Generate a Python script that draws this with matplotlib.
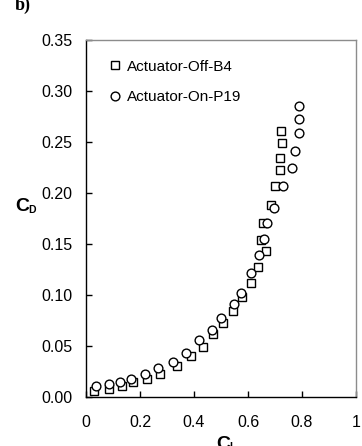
import matplotlib
matplotlib.use("Agg")
import matplotlib.pyplot as plt
from matplotlib.lines import Line2D

plt.rcParams['font.family'] = ['Liberation Sans', 'DejaVu Sans']

# Lift coefficient / drag coefficient pairs
cl_off = [0.029, 0.085, 0.132, 0.175, 0.225, 0.274, 0.336, 0.388, 0.432, 0.469,
          0.509, 0.543, 0.577, 0.611, 0.638, 0.667, 0.647, 0.657, 0.684, 0.700,
          0.719, 0.719, 0.727, 0.721]
cd_off = [0.0062, 0.0081, 0.0110, 0.0144, 0.0176, 0.0222, 0.0305, 0.0402, 0.0493, 0.0618,
          0.0728, 0.0846, 0.0977, 0.1120, 0.1278, 0.1434, 0.1539, 0.1703, 0.1882, 0.2069,
          0.2225, 0.2340, 0.2493, 0.2611]

cl_on = [0.036, 0.086, 0.126, 0.167, 0.219, 0.266, 0.323, 0.372, 0.420, 0.466,
         0.500, 0.548, 0.574, 0.611, 0.642, 0.660, 0.671, 0.697, 0.731, 0.762,
         0.774, 0.789, 0.789, 0.789]
cd_on = [0.0111, 0.0125, 0.0144, 0.0176, 0.0225, 0.0281, 0.0340, 0.0433, 0.0559, 0.0657,
         0.0772, 0.0909, 0.1023, 0.1213, 0.1392, 0.1546, 0.1703, 0.1856, 0.2069, 0.2242,
         0.2415, 0.2591, 0.2722, 0.2856]

labels = ["Actuator-Off-B4", "Actuator-On-P19"]
x_ticks = [0, 0.2, 0.4, 0.6, 0.8, 1]
x_tick_labels = ["0", "0.2", "0.4", "0.6", "0.8", "1"]
y_ticks = [0.00, 0.05, 0.10, 0.15, 0.20, 0.25, 0.30, 0.35]

W, H = 362, 446
fig = plt.figure(figsize=(W / 100, H / 100), dpi=100)
ax = fig.add_axes([86 / W, 1 - 397 / H, 270 / W, 357 / H])

ax.plot(cl_off, cd_off, linestyle='none', marker='s', ms=5.8, mfc='white',
        mec='black', mew=1.0, zorder=3)
ax.plot(cl_on, cd_on, linestyle='none', marker='o', ms=6.3, mfc='white',
        mec='black', mew=1.0, zorder=4)

ax.set_xlim(0, 1)
ax.set_ylim(0, 0.35)
ax.set_xticks(x_ticks)
ax.set_xticklabels(x_tick_labels)
ax.set_yticks(y_ticks)
ax.set_yticklabels([f"{v:.2f}" for v in y_ticks])
ax.tick_params(axis='both', direction='in', length=4, width=1.0,
               labelsize=11.5, colors='black')
ax.tick_params(axis='y', pad=10)
ax.tick_params(axis='x', pad=13)

for side in ('left', 'bottom'):
    ax.spines[side].set_color('black')
    ax.spines[side].set_linewidth(1.0)
for side in ('top', 'right'):
    ax.spines[side].set_color('#8c8c8c')
    ax.spines[side].set_linewidth(1.0)

handles = [
    Line2D([], [], linestyle='none', marker='s', ms=5.8, mfc='white', mec='black', mew=1.0),
    Line2D([], [], linestyle='none', marker='o', ms=6.3, mfc='white', mec='black', mew=1.0),
]
ax.legend(handles, labels, loc='upper left', bbox_to_anchor=(0.085, 0.945),
          frameon=False, fontsize=11, handlelength=0.8, handletextpad=0.4,
          labelspacing=1.1, borderpad=0, borderaxespad=0)

# Axis titles: bold "C" with a small bold subscript letter
def coeff_label(x_px, y_top_px, sub):
    fig.text(x_px / W, 1 - y_top_px / H, 'C', fontsize=14, fontweight='black',
             ha='left', va='top')
    fig.text((x_px + 13.5) / W, 1 - (y_top_px + 6.5) / H, sub, fontsize=7.5,
             fontweight='bold', ha='left', va='top')

coeff_label(15, 198, 'D')
coeff_label(216, 436, 'L')

fig.text(15 / W, 1 - 10 / H, 'b)', fontsize=13, fontweight='bold',
         family=['Liberation Serif', 'DejaVu Serif'], va='baseline', ha='left')

fig.savefig('out.png', dpi=100)
